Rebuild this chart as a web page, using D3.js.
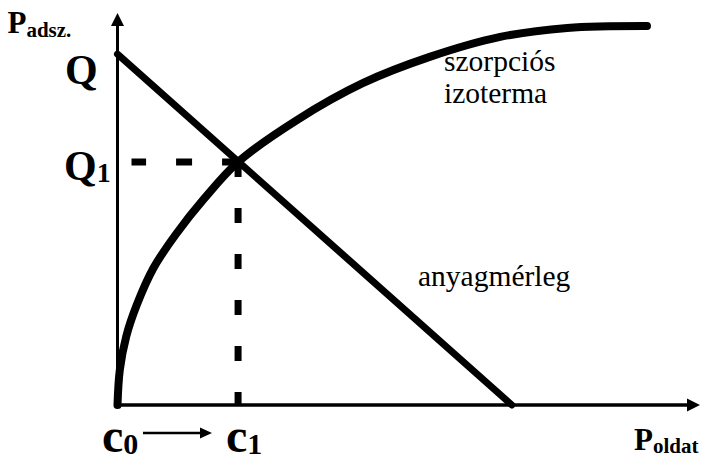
<!DOCTYPE html>
<html>
<head>
<meta charset="utf-8">
<script src="https://cdn.jsdelivr.net/npm/d3@7"></script>
<style>
  body { margin: 0; background: #fff; }
</style>
</head>
<body>
<div id="chart"></div>
<script>
// sorption isotherm points (x = P oldat, y = P adsz.)
var isothermX = [0, 0.4, 1.5, 3.3, 6.2, 10.0, 14.8, 20.7, 30.8, 42.1, 53.6, 65.7, 77.2, 90.9];
var isothermY = [0, 9.0, 17.5, 25.5, 35.0, 43.5, 52.5, 62.0, 72.7, 82.1, 88.8, 93.9, 96.2, 96.7];

// mass balance line: from (0, Q) to (xEnd, 0)
var balanceX = [0, 67.7];
var balanceY = [89.5, 0];

var Q = 89.5;
var Q1 = 62.0;
var c1 = 20.7;

var serif = "'Liberation Serif', 'Times New Roman', Times, 'DejaVu Serif', serif";

var svgWidth = 706;
var svgHeight = 456;

var svg = d3.select("#chart")
    .append("svg")
    .attr("width", svgWidth)
    .attr("height", svgHeight)
    .style("font-family", serif);

var xScale = d3.scaleLinear().domain([0, 100]).range([117.5, 700]);
var yScale = d3.scaleLinear().domain([0, 100]).range([405, 13]);

// axes with arrow heads
svg.append("line")
    .attr("x1", xScale(0)).attr("y1", yScale(0))
    .attr("x2", xScale(0)).attr("y2", yScale(100) + 10)
    .attr("stroke", "#000").attr("stroke-width", 3);
svg.append("path")
    .attr("d", `M${xScale(0)},${yScale(100)} l-6.5,13 l13,0 z`)
    .attr("fill", "#000");

svg.append("line")
    .attr("x1", xScale(0)).attr("y1", yScale(0))
    .attr("x2", xScale(100) - 10).attr("y2", yScale(0))
    .attr("stroke", "#000").attr("stroke-width", 3.5);
svg.append("path")
    .attr("d", `M${xScale(100)},${yScale(0)} l-13,-6.5 l0,13 z`)
    .attr("fill", "#000");

// dashed guides for Q1 and c1
svg.append("line")
    .attr("x1", xScale(c1)).attr("y1", yScale(Q1))
    .attr("x2", xScale(0) + 14).attr("y2", yScale(Q1))
    .attr("stroke", "#000").attr("stroke-width", 7)
    .attr("stroke-dasharray", "16,30");
svg.append("line")
    .attr("x1", xScale(c1)).attr("y1", yScale(Q1))
    .attr("x2", xScale(c1)).attr("y2", yScale(0))
    .attr("stroke", "#000").attr("stroke-width", 7)
    .attr("stroke-dasharray", "15,31");

// mass balance
var lineGen = d3.line()
    .x(d => xScale(d[0]))
    .y(d => yScale(d[1]));

svg.append("path")
    .datum(d3.zip(balanceX, balanceY))
    .attr("d", lineGen)
    .attr("fill", "none")
    .attr("stroke", "#000")
    .attr("stroke-width", 7)
    .attr("stroke-linecap", "round");

// isotherm
var curveGen = d3.line()
    .x(d => xScale(d[0]))
    .y(d => yScale(d[1]))
    .curve(d3.curveCatmullRom.alpha(0.5));

svg.append("path")
    .datum(d3.zip(isothermX, isothermY))
    .attr("d", curveGen)
    .attr("fill", "none")
    .attr("stroke", "#000")
    .attr("stroke-width", 8)
    .attr("stroke-linecap", "round");

// labels
function subLabel(x, y, main, sub, mainSize, subSize, dy) {
    var t = svg.append("text")
        .attr("x", x).attr("y", y)
        .attr("font-family", serif)
        .attr("font-weight", "bold");
    t.append("tspan")
        .attr("font-size", mainSize)
        .text(main);
    t.append("tspan")
        .attr("font-size", subSize)
        .attr("dy", dy)
        .text(sub);
    return t;
}

subLabel(7.5, 33, "P", "adsz.", 31, 21, 4);
subLabel(634, 450, "P", "oldat", 31, 21, 3);

svg.append("text")
    .attr("x", 65)
    .attr("y", 84)
    .attr("font-family", serif)
    .attr("font-size", 42)
    .attr("font-weight", "bold")
    .text("Q");
subLabel(64, 180, "Q", "1", 42, 28, 2);

subLabel(102, 452, "c", "0", 48, 30, 2);
subLabel(226, 452, "c", "1", 48, 30, 2);

// c0 -> c1 arrow
svg.append("line")
    .attr("x1", 143).attr("y1", 433)
    .attr("x2", 202).attr("y2", 433)
    .attr("stroke", "#000").attr("stroke-width", 2.5);
svg.append("path")
    .attr("d", "M212,433 l-12,-5.5 l0,11 z")
    .attr("fill", "#000");

function plainLabel(x, y, s) {
    svg.append("text")
        .attr("x", x).attr("y", y)
        .attr("font-family", serif)
        .attr("font-size", 29.5)
        .text(s);
}
plainLabel(444, 71, "szorpciós");
plainLabel(444, 103, "izoterma");
plainLabel(418, 286, "anyagmérleg");
</script>
</body>
</html>
